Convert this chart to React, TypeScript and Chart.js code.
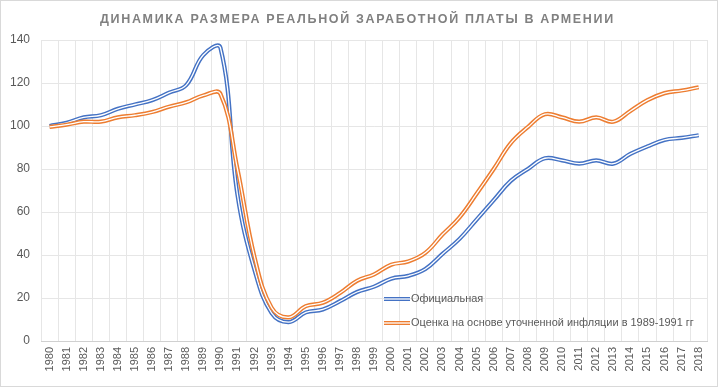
import React, { useEffect, useRef } from "react";
import { Chart, registerables } from "chart.js";

Chart.register(...registerables);

const years: string[] = [
  "1980","1981","1982","1983","1984","1985","1986","1987","1988","1989",
  "1990","1991","1992","1993","1994","1995","1996","1997","1998","1999",
  "2000","2001","2002","2003","2004","2005","2006","2007","2008","2009",
  "2010","2011","2012","2013","2014","2015","2016","2017","2018",
];

const official: number[] = [
  100, 101.5, 104, 105, 108, 110, 112, 115.5, 119, 133,
  136.5, 68, 33, 13, 8.8, 13.3, 14.7, 18.5, 22.8, 25.3,
  29, 30.3, 33.5, 40.5, 47.5, 56.5, 65.5, 74.5, 80, 85,
  84, 82.5, 84, 82.5, 87, 90.5, 93.5, 94.5, 95.7,
];

const adjusted: number[] = [
  99.6, 100.6, 102, 102, 104, 105, 106.5, 109, 111, 114.2,
  115, 80, 39, 15.5, 11, 16.2, 17.8, 22.3, 28, 31,
  35.5, 37, 41, 49.5, 57.5, 68.5, 80, 92, 99.5, 105.5,
  104, 102, 104, 102, 107, 112, 115.3, 116.5, 118,
];

const yTicks: number[] = [0, 20, 40, 60, 80, 100, 120, 140];

const titleText = "ДИНАМИКА РАЗМЕРА РЕАЛЬНОЙ ЗАРАБОТНОЙ ПЛАТЫ В АРМЕНИИ";
const seriesNames: string[] = [
  "Официальная",
  "Оценка на основе уточненной инфляции в 1989-1991 гг",
];
const seriesColors: string[] = ["#4472C4", "#ED7D31"];

const FONT = "'Liberation Sans', Arial, sans-serif";
const TEXT = "#595959";

export default function App() {
  const ref = useRef<HTMLCanvasElement | null>(null);

  useEffect(() => {
    document.body.style.margin = "0";
    const canvas = ref.current;
    if (!canvas) return;

    const decor = {
      id: "decor",
      afterDraw(chart: any) {
        const ctx = chart.ctx as CanvasRenderingContext2D;
        ctx.save();
        // title: fit to the reference span (about 515px wide)
        ctx.fillStyle = "#808080";
        ctx.font = `bold 12.5px ${FONT}`;
        (ctx as any).letterSpacing = "0px";
        const tw = ctx.measureText(titleText).width;
        const sp = Math.max(0, (515 - tw) / titleText.length);
        (ctx as any).letterSpacing = `${sp.toFixed(2)}px`;
        ctx.textAlign = "left";
        ctx.textBaseline = "middle";
        ctx.fillText(titleText, 100, 19.5);
        (ctx as any).letterSpacing = "0px";
        // legend
        ctx.font = `12px ${FONT}`;
        const lw = ctx.measureText(seriesNames[1]).width;
        const fs = Math.min(12, (12 * 283) / lw);
        const rows = [299, 323];
        seriesNames.forEach((name, i) => {
          const y = rows[i];
          ctx.lineCap = "butt";
          ctx.strokeStyle = seriesColors[i];
          ctx.lineWidth = 4;
          ctx.beginPath();
          ctx.moveTo(384, y);
          ctx.lineTo(410, y);
          ctx.stroke();
          ctx.strokeStyle = "#ffffff";
          ctx.lineWidth = 1.3;
          ctx.beginPath();
          ctx.moveTo(384, y);
          ctx.lineTo(410, y);
          ctx.stroke();
          ctx.fillStyle = TEXT;
          ctx.font = `${fs.toFixed(2)}px ${FONT}`;
          ctx.textAlign = "left";
          ctx.textBaseline = "middle";
          ctx.fillText(name, 411, y);
        });
        // outer frame
        ctx.strokeStyle = "#d9d9d9";
        ctx.lineWidth = 1;
        ctx.strokeRect(0.5, 0.5, chart.width - 1, chart.height - 1);
        ctx.restore();
      },
    };

    const mk = (data: number[], color: string, width: number, order: number, label: string) => ({
      label,
      data,
      borderColor: color,
      backgroundColor: color,
      borderWidth: width,
      pointRadius: 0,
      pointHoverRadius: 0,
      tension: 0.4,
      fill: false,
      order,
    });

    const chart = new Chart(canvas, {
      type: "line",
      data: {
        labels: years,
        datasets: [
          mk(official, seriesColors[0], 4.2, 4, seriesNames[0]),
          mk(official, "#ffffff", 1.3, 3, seriesNames[0] + "_inner"),
          mk(adjusted, seriesColors[1], 4.2, 2, seriesNames[1]),
          mk(adjusted, "#ffffff", 1.3, 1, seriesNames[1] + "_inner"),
        ],
      },
      options: {
        responsive: false,
        animation: false,
        events: [],
        layout: { padding: { top: 40, right: 7, bottom: 0, left: 0 } },
        plugins: {
          legend: { display: false },
          title: { display: false },
          tooltip: { enabled: false },
        },
        scales: {
          x: {
            type: "category",
            offset: true,
            grid: {
              offset: true,
              color: "#e6e6e6",
              drawTicks: false,
            },
            border: { color: "#d0d0d0" },
            ticks: {
              color: TEXT,
              font: { family: FONT, size: 11 },
              minRotation: 90,
              maxRotation: 90,
              autoSkip: false,
              padding: 6,
            },
            afterFit(scale: any) {
              scale.height = 46;
            },
          },
          y: {
            min: 0,
            max: 140,
            afterBuildTicks(scale: any) {
              scale.ticks = yTicks.map((v) => ({ value: v }));
            },
            grid: { color: "#e6e6e6", drawTicks: false },
            border: { display: false },
            ticks: {
              color: TEXT,
              font: { family: FONT, size: 12 },
              padding: 11,
            },
            afterFit(scale: any) {
              scale.width = 41;
            },
          },
        },
      },
      plugins: [decor],
    } as any);

    return () => chart.destroy();
  }, []);

  return (
    <div style={{ position: "absolute", left: 0, top: 0, width: 718, height: 387, background: "#fff" }}>
      <canvas ref={ref} width={718} height={387} style={{ width: 718, height: 387 }} />
    </div>
  );
}
